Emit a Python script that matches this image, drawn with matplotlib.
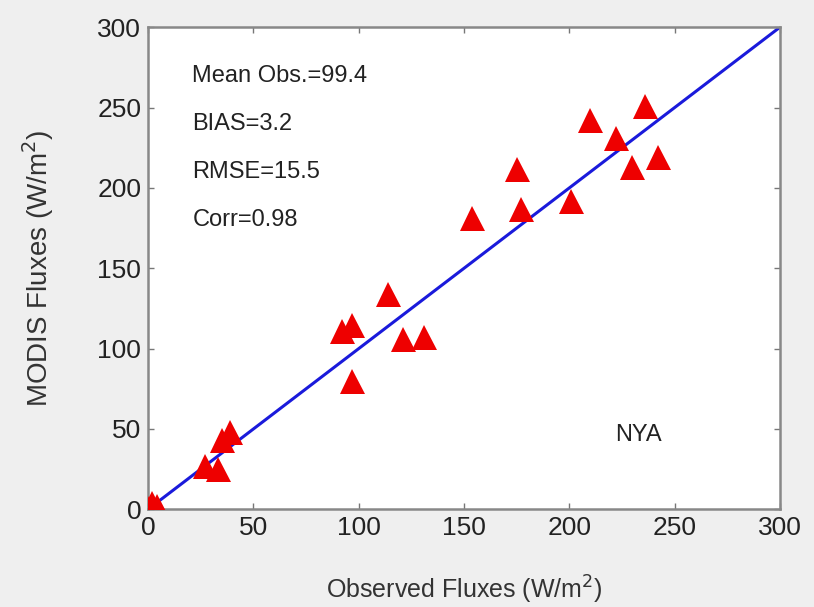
import matplotlib
matplotlib.use('Agg')
import matplotlib.pyplot as plt

# observed vs MODIS fluxes (W/m2)
obs = [0, 2, 4, 1, 27, 33, 35, 39, 92, 97, 97, 114, 121, 131,
       154, 175, 177, 201, 210, 222, 230, 236, 242]
modis = [1, 4, 2, 0, 27, 25, 43, 48, 111, 115, 80, 134, 106, 107,
         181, 212, 187, 192, 242, 231, 213, 251, 219]

stats = ['Mean Obs.=99.4', 'BIAS=3.2', 'RMSE=15.5', 'Corr=0.98']
site = 'NYA'
ticks = [0, 50, 100, 150, 200, 250, 300]

plt.rcParams['font.family'] = ['Liberation Sans', 'DejaVu Sans']

fig = plt.figure(figsize=(8.14, 6.07), dpi=100, facecolor='#efefef')
ax = fig.add_axes([0.182, 0.161, 0.776, 0.794])
ax.set_facecolor('white')

ax.plot(obs, modis, '^', color='#ee0000', markersize=18, markeredgewidth=0, zorder=3)
ax.plot([0, 300], [0, 300], color='#1a1adb', linewidth=2.2, zorder=2)

ax.set_xlim(0, 300)
ax.set_ylim(0, 300)
ax.set_xticks(ticks)
ax.set_yticks(ticks)
ax.tick_params(direction='in', length=4, width=1, colors='#777777',
               labelcolor='#222222', labelsize=19, top=True, right=True, pad=5)
for s in ax.spines.values():
    s.set_color('#888888')
    s.set_linewidth(1.8)

ax.set_xlabel('Observed Fluxes (W/m$^2$)', fontsize=18, color='#333333', labelpad=24)
ax.set_ylabel('MODIS Fluxes (W/m$^2$)', fontsize=20, color='#333333', labelpad=30)

for i, t in enumerate(stats):
    ax.text(21, 270 - i * 30, t, fontsize=17, color='#222222', va='center', ha='left')
ax.text(222, 46, site, fontsize=17, color='#222222', va='center', ha='left')

fig.savefig('out.png', dpi=100, facecolor=fig.get_facecolor())
